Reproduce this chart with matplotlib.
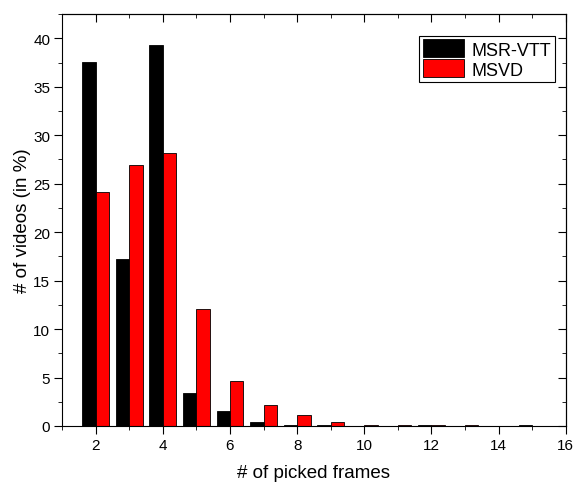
import matplotlib.pyplot as plt
import numpy as np
from matplotlib.ticker import MultipleLocator

plt.rcParams['font.family'] = ['Liberation Sans', 'DejaVu Sans']

frames = [2, 3, 4, 5, 6, 7, 8, 9, 10, 11, 12, 13, 14, 15]
msrvtt = [37.6, 17.2, 39.3, 3.4, 1.5, 0.45, 0.15, 0.15, 0.0, 0.0, 0.12, 0.0, 0.0, 0.15]
msvd = [24.1, 26.9, 28.2, 12.1, 4.6, 2.2, 1.1, 0.45, 0.15, 0.1, 0.1, 0.1, 0.0, 0.0]

x = np.array(frames)
w = 0.4

fig = plt.figure(figsize=(5.75, 4.85), dpi=100)
ax = fig.add_axes([0.108, 0.1196, 0.876, 0.8494])

ax.bar(x - w / 2, msrvtt, w, color='black', edgecolor='black', linewidth=0.6, label='MSR-VTT')
ax.bar(x + w / 2, msvd, w, color='#ff0000', edgecolor='black', linewidth=0.6, label='MSVD')

ax.set_xlim(1, 16)
ax.set_ylim(0, 42.5)
ax.xaxis.set_major_locator(MultipleLocator(2))
ax.xaxis.set_minor_locator(MultipleLocator(1))
ax.yaxis.set_major_locator(MultipleLocator(5))
ax.yaxis.set_minor_locator(MultipleLocator(2.5))

ax.tick_params(which='both', direction='out', top=False, right=False, labelsize=11, pad=2.5)
ax.tick_params(which='major', length=6)
ax.tick_params(which='minor', length=3)

# inward ticks on top and right
axt = ax.secondary_xaxis('top')
axt.xaxis.set_major_locator(MultipleLocator(2))
axt.xaxis.set_minor_locator(MultipleLocator(1))
axt.tick_params(which='both', direction='in', labeltop=False)
axt.tick_params(which='major', length=6)
axt.tick_params(which='minor', length=3)
axr = ax.secondary_yaxis('right')
axr.yaxis.set_major_locator(MultipleLocator(5))
axr.yaxis.set_minor_locator(MultipleLocator(2.5))
axr.tick_params(which='both', direction='in', labelright=False)
axr.tick_params(which='major', length=6)
axr.tick_params(which='minor', length=3)

ax.set_xlabel('# of picked frames', fontsize=13.5, labelpad=9)
ax.set_ylabel('# of videos (in %)', fontsize=13.5, labelpad=2)

leg = ax.legend(loc='upper right', bbox_to_anchor=(0.978, 0.947), fontsize=13,
                fancybox=False, edgecolor='black', framealpha=1,
                handlelength=2.3, handleheight=1.15, handletextpad=0.4,
                borderpad=0.2, labelspacing=0.05, borderaxespad=0)
leg.get_frame().set_linewidth(0.8)

fig.savefig('out.png', dpi=100)
